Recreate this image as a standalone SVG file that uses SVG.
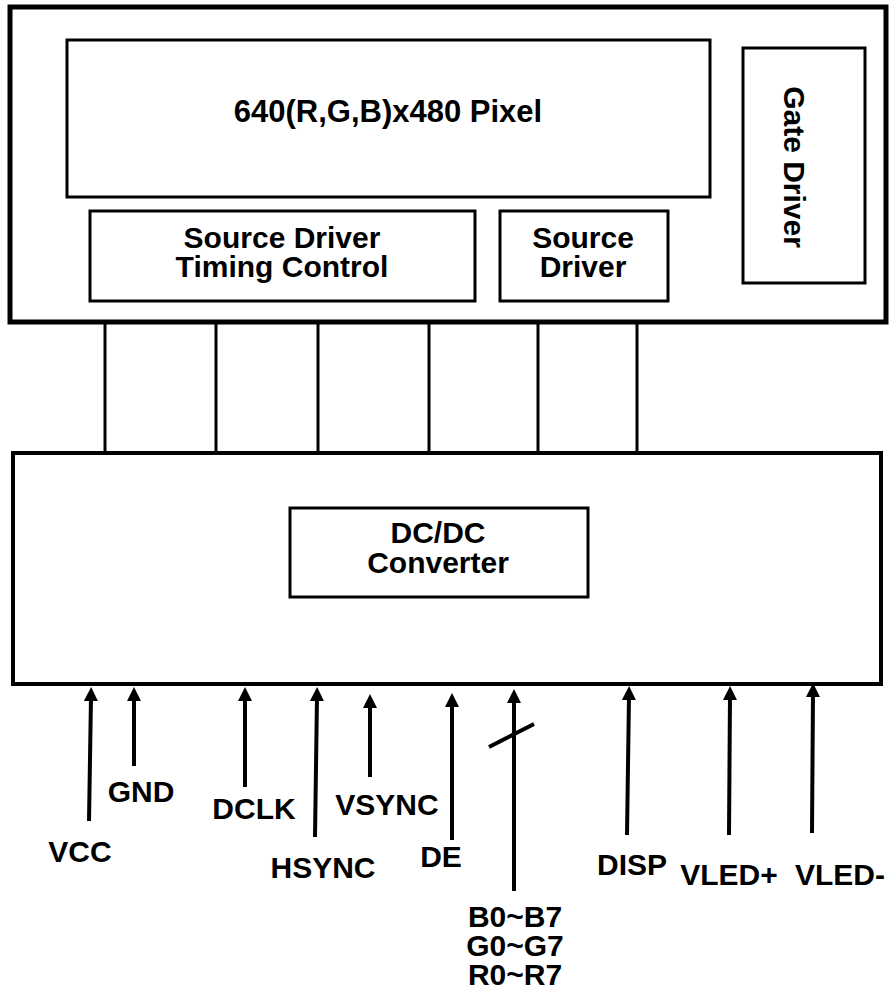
<svg xmlns="http://www.w3.org/2000/svg" width="892" height="994" viewBox="0 0 892 994">
<defs>
<marker id="ah" viewBox="0 0 14 14" markerWidth="14" markerHeight="14" refX="4" refY="7" markerUnits="userSpaceOnUse" orient="auto">
<path d="M0,0 L14,7 L0,14 z" fill="#000"/>
</marker>
<style>
.box{fill:#fff;stroke:#000;stroke-width:3}
.lbl{font-family:"Liberation Sans",Arial,sans-serif;font-weight:bold;font-size:30px;fill:#000;text-anchor:middle}
.wire{stroke:#000;stroke-width:3;fill:none}
.arr{stroke:#000;stroke-width:4;fill:none;marker-end:url(#ah)}
</style>
</defs>
<rect width="892" height="994" fill="#fff"/>
<g id="panel">
<rect x="10" y="7" width="876" height="315" fill="#fff" stroke="#000" stroke-width="5"/>
</g>
<g id="pixel">
<rect class="box" x="67" y="40" width="643" height="157"/>
<text class="lbl" x="388" y="122" font-size="31" style="font-size:31px">640(R,G,B)x480 Pixel</text>
</g>
<g id="sdtc">
<rect class="box" x="90" y="211" width="385" height="90"/>
<text class="lbl" x="282" y="248">Source Driver</text>
<text class="lbl" x="282" y="277">Timing Control</text>
</g>
<g id="sd">
<rect class="box" x="500" y="211" width="168" height="90"/>
<text class="lbl" x="583" y="248">Source</text>
<text class="lbl" x="583" y="277">Driver</text>
</g>
<g id="gate">
<rect class="box" x="743" y="48" width="122" height="235"/>
<text class="lbl" transform="translate(784,167) rotate(90)" x="0" y="0">Gate Driver</text>
</g>
<g id="controller">
<rect x="13" y="453" width="868" height="231" fill="#fff" stroke="#000" stroke-width="4"/>
</g>
<g id="dcdc">
<rect class="box" x="290" y="508" width="298" height="89"/>
<text class="lbl" x="438" y="543">DC/DC</text>
<text class="lbl" x="438" y="573">Converter</text>
</g>
<g id="connectors">
<line class="wire" x1="105" y1="324" x2="105" y2="453"/>
<line class="wire" x1="216" y1="324" x2="216" y2="453"/>
<line class="wire" x1="318" y1="324" x2="318" y2="453"/>
<line class="wire" x1="429" y1="324" x2="429" y2="453"/>
<line class="wire" x1="538" y1="324" x2="538" y2="453"/>
<line class="wire" x1="637" y1="324" x2="637" y2="453"/>
<line class="arr" x1="89" y1="821" x2="91" y2="697"/>
<line class="arr" x1="134" y1="766" x2="134" y2="697"/>
<line class="arr" x1="245" y1="787" x2="245" y2="697"/>
<line class="arr" x1="315" y1="837" x2="317" y2="697"/>
<line class="arr" x1="370" y1="777" x2="370" y2="704"/>
<line class="arr" x1="452" y1="840" x2="452" y2="703"/>
<line class="arr" x1="514" y1="891" x2="514" y2="699"/>
<line class="arr" x1="627" y1="835" x2="629" y2="696"/>
<line class="arr" x1="729" y1="835" x2="730" y2="696"/>
<line class="arr" x1="812" y1="833" x2="813" y2="693"/>
<line x1="489" y1="747" x2="534" y2="724" stroke="#000" stroke-width="4"/>
</g>
<g id="labels">
<text class="lbl" x="80" y="862">VCC</text>
<text class="lbl" x="141" y="802">GND</text>
<text class="lbl" x="254" y="819">DCLK</text>
<text class="lbl" x="323" y="878">HSYNC</text>
<text class="lbl" x="387" y="815">VSYNC</text>
<text class="lbl" x="441" y="867">DE</text>
<text class="lbl" x="515" y="927">B0~B7</text>
<text class="lbl" x="515" y="956">G0~G7</text>
<text class="lbl" x="515" y="985">R0~R7</text>
<text class="lbl" x="632" y="875">DISP</text>
<text class="lbl" x="729" y="885">VLED+</text>
<text class="lbl" x="840" y="885">VLED-</text>
</g>
</svg>
